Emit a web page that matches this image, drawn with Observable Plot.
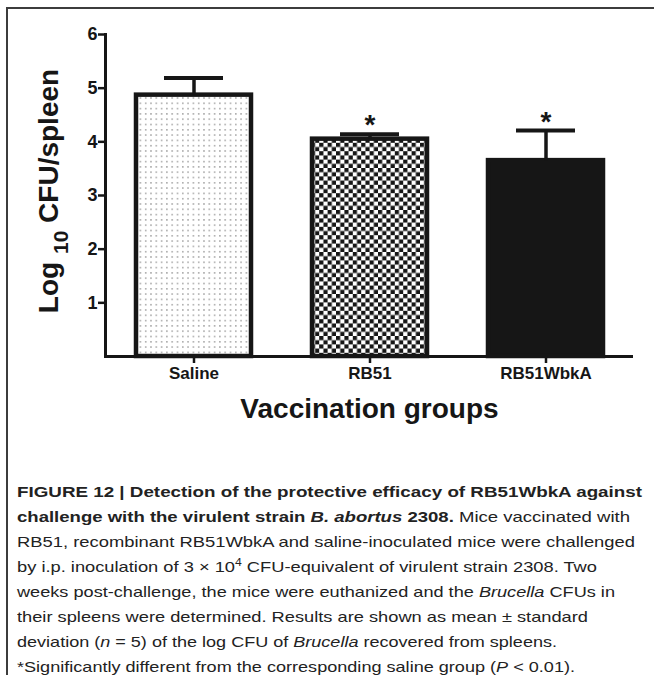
<!DOCTYPE html>
<html>
<head>
<meta charset="utf-8">
<script src="https://cdn.jsdelivr.net/npm/d3@7"></script>
<script src="https://cdn.jsdelivr.net/npm/@observablehq/plot@0.6"></script>
<style>
  html, body { margin: 0; padding: 0; background: #fff; overflow: hidden; }
  body { width: 654px; height: 675px; position: relative; overflow: hidden; font-family: "Liberation Sans", Arial, sans-serif; }
  #frame { position: absolute; left: 6px; top: 7px; width: 660px; height: 680px; border-top: 2px solid #3c3c3c; border-left: 2px solid #3c3c3c; }
  #chart { position: absolute; left: 0; top: 0; }
  #caption { position: absolute; left: 17px; top: 479px; font-size: 15px; line-height: 25px; color: #222; }
  #caption .line { white-space: nowrap; width: max-content; transform-origin: 0 50%; }
  #caption sup { font-size: 10px; line-height: 0; vertical-align: 6px; }
  #chart svg g[aria-label="y-axis tick label"] text { font-weight: bold; }
</style>
</head>
<body>
<div id="frame"></div>
<div id="chart"></div>
<div id="caption"></div>
<script>
// ---- data ----
const groups = ["Saline", "RB51", "RB51WbkA"];
const means = [4.87, 4.05, 3.65];
const sds = [0.32, 0.09, 0.56];
const significant = [false, true, true];
const yTicks = [1, 2, 3, 4, 5, 6];
const xLabel = "Vaccination groups";

const data = groups.map((g, i) => ({group: g, mean: means[i], top: means[i] + sds[i], sig: significant[i]}));

// ---- styles ----
const fills = ["url(#dots)", "url(#checks)", "#161616"];
const ink = "#161616";

const svg = Plot.plot({
  width: 654,
  height: 440,
  marginLeft: 105,
  marginRight: 21,
  marginTop: 34,
  marginBottom: 84,
  style: {fontFamily: "'Liberation Sans', Arial, sans-serif", color: ink, background: "transparent"},
  x: {domain: groups, paddingInner: 0.348, paddingOuter: 0.174},
  y: {domain: [0, 6]},
  color: {domain: groups, range: fills},
  marks: [
    Plot.barY(data, {x: "group", y: "mean", fill: "group", stroke: ink, strokeWidth: 4.5}),
    Plot.ruleX(data, {x: "group", y1: "mean", y2: "top", stroke: ink, strokeWidth: 3.5}),
    Plot.tickY(data, {x: "group", y: "top", stroke: ink, strokeWidth: 4, insetLeft: 28, insetRight: 28}),
    Plot.text(data.filter(d => d.sig), {x: "group", y: "top", text: () => "*", fontSize: 28, fontWeight: "bold", dy: -9, fill: ink}),
    Plot.frame({anchor: "left", stroke: ink, strokeWidth: 3}),
    Plot.ruleY([0], {stroke: ink, strokeWidth: 3}),
    Plot.axisY({ticks: yTicks, tickFormat: d => String(d), tickSize: 7, tickPadding: 1, fontSize: 18, fontWeight: "bold", strokeWidth: 2.5, label: null}),
    Plot.axisX({tickSize: 7, tickPadding: 3, fontSize: 17, fontWeight: "bold", strokeWidth: 2.5, label: null}),
    Plot.text([xLabel], {frameAnchor: "bottom", dy: 61, fontSize: 28, fontWeight: "bold", fill: ink})
  ]
});

// patterns for bar fills
const s = d3.select(svg);
const defs = s.insert("defs", ":first-child");
const dots = defs.append("pattern").attr("id", "dots").attr("patternUnits", "userSpaceOnUse").attr("width", 5.3).attr("height", 5.3);
dots.append("rect").attr("width", 5.3).attr("height", 5.3).attr("fill", "#fff");
dots.append("rect").attr("x", 2).attr("y", 2).attr("width", 1.2).attr("height", 1.2).attr("fill", "#6a6a6a");
const checks = defs.append("pattern").attr("id", "checks").attr("patternUnits", "userSpaceOnUse").attr("width", 8.4).attr("height", 8.4);
checks.append("rect").attr("width", 8.4).attr("height", 8.4).attr("fill", "#fff");
checks.append("rect").attr("width", 4.2).attr("height", 4.2).attr("fill", ink);
checks.append("rect").attr("x", 4.2).attr("y", 4.2).attr("width", 4.2).attr("height", 4.2).attr("fill", ink);

// y-axis title with subscript
const yt = s.append("text")
  .attr("transform", "translate(58,191) rotate(-90)")
  .attr("text-anchor", "middle")
  .attr("font-size", 28).attr("font-weight", "bold").attr("fill", ink)
  .attr("font-family", "'Liberation Sans', Arial, sans-serif");
yt.append("tspan").text("Log ");
yt.append("tspan").attr("font-size", 21).attr("dy", 10).text("10");
yt.append("tspan").attr("dy", -10).text(" CFU/spleen");

document.getElementById("chart").appendChild(svg);

// ---- caption ----
const captionLines = [
  "<b>FIGURE 12 | Detection of the protective efficacy of RB51WbkA against</b>",
  "<b>challenge with the virulent strain <i>B. abortus</i> 2308.</b> Mice vaccinated with",
  "RB51, recombinant RB51WbkA and saline-inoculated mice were challenged",
  "by i.p. inoculation of 3 × 10<sup>4</sup> CFU-equivalent of virulent strain 2308. Two",
  "weeks post-challenge, the mice were euthanized and the <i>Brucella</i> CFUs in",
  "their spleens were determined. Results are shown as mean ± standard",
  "deviation (<i>n</i> = 5) of the log CFU of <i>Brucella</i> recovered from spleens.",
  "*Significantly different from the corresponding saline group (<i>P</i> &lt; 0.01)."
];
const lineWidths = [625, 613, 618, 580, 598, 571, 540, 558];
const cap = document.getElementById("caption");
captionLines.forEach((html, i) => {
  const div = document.createElement("div");
  div.className = "line";
  div.innerHTML = html;
  cap.appendChild(div);
  const w = div.getBoundingClientRect().width;
  div.style.transform = `scaleX(${lineWidths[i] / w})`;
});
</script>
</body>
</html>
